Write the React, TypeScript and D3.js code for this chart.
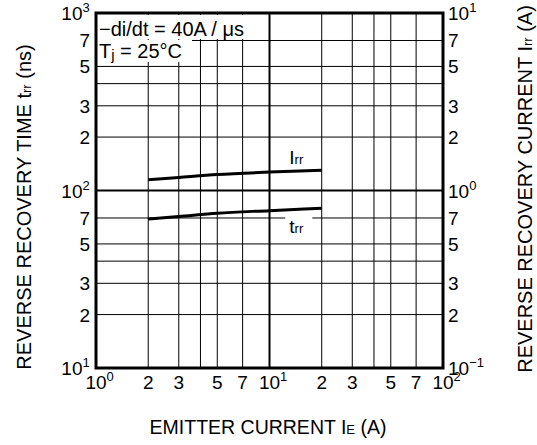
import * as d3 from "d3";

// emitter current IE (A)
const currentA = [2, 3, 5, 10, 20];
// reverse recovery current Irr (A), right axis
const irrA = [1.15, 1.185, 1.23, 1.27, 1.3];
// reverse recovery time trr (ns), left axis
const trrNs = [69, 71.3, 74.5, 77, 79.5];

const gridMult = [2, 3, 4, 5, 7];
const labelMult = [2, 3, 5, 7];
const xDecades = [0, 1, 2];
const leftDecades = [1, 2, 3];
const rightDecades = [-1, 0, 1];

const W = 537;
const H = 445;
const M = { left: 96, right: 443, top: 13, bottom: 368 };
const FONT = "'Liberation Sans', Arial, sans-serif";

function Pow({ x, y, base, exp, anchor }: { x: number; y: number; base: string; exp: string; anchor: "start" | "mid" | "end" }) {
  // "10" with a superscript; anchor refers to the "10" part
  const fs = 19;
  const w = 1.112 * fs;
  const x0 = anchor === "start" ? x : anchor === "mid" ? x - w / 2 : x - w - exp.length * 7.5;
  return (
    <text x={x0} y={y} fontSize={fs} fontFamily={FONT} fill="#000">
      {base}
      <tspan fontSize={13} dy={-8}>{exp}</tspan>
    </text>
  );
}

export default function App() {
  const x = d3.scaleLog().domain([1, 100]).range([M.left, M.right]);
  const yL = d3.scaleLog().domain([10, 1000]).range([M.bottom, M.top]);
  const yR = d3.scaleLog().domain([0.1, 10]).range([M.bottom, M.top]);

  const vLines: number[] = [];
  const hLines: number[] = [];
  xDecades.slice(0, -1).forEach((d) => gridMult.forEach((m) => vLines.push(m * 10 ** d)));
  leftDecades.slice(0, -1).forEach((d) => gridMult.forEach((m) => hLines.push(m * 10 ** d)));

  const irrLine = d3
    .line<number>()
    .x((_, i) => x(currentA[i]))
    .y((v) => yR(v))
    .curve(d3.curveMonotoneX);
  const trrLine = d3
    .line<number>()
    .x((_, i) => x(currentA[i]))
    .y((v) => yL(v))
    .curve(d3.curveMonotoneX);

  const fs = 19;

  return (
    <svg width={W} height={H} style={{ position: "absolute", left: 0, top: 0, background: "#fff" }} fontFamily={FONT}>
      <rect width={W} height={H} fill="#fff" />

      {/* minor grid */}
      {vLines.map((v) => (
        <line key={"v" + v} x1={x(v)} x2={x(v)} y1={M.top} y2={M.bottom} stroke="#000" strokeWidth={1} />
      ))}
      {hLines.map((v) => (
        <line key={"h" + v} x1={M.left} x2={M.right} y1={yL(v)} y2={yL(v)} stroke="#000" strokeWidth={1} />
      ))}
      {/* decade lines */}
      <line x1={x(10)} x2={x(10)} y1={M.top} y2={M.bottom} stroke="#000" strokeWidth={2} />
      <line x1={M.left} x2={M.right} y1={yL(100)} y2={yL(100)} stroke="#000" strokeWidth={2} />

      {/* condition box */}
      <rect x={M.left + 1} y={M.top + 2} width={156} height={24} fill="#fff" />
      <rect x={M.left + 1} y={M.top + 27} width={95} height={22} fill="#fff" />
      <text x={M.left + 3} y={36} fontSize={20} fill="#000">−di/dt = 40A / μs</text>
      <text x={M.left + 3} y={58} fontSize={20} fill="#000">
        T<tspan fontSize={15} dy={2}>j</tspan>
        <tspan dy={-2}> = 25°C</tspan>
      </text>

      {/* curves */}
      <path d={irrLine(irrA) ?? ""} fill="none" stroke="#000" strokeWidth={3} />
      <path d={trrLine(trrNs) ?? ""} fill="none" stroke="#000" strokeWidth={3} />

      <text x={x(13)} y={164} fontSize={fs} fill="#000">
        I<tspan fontSize={13}>rr</tspan>
      </text>
      <rect x={x(13) - 4} y={yL(70) - 3} width={27} height={6} fill="#fff" />
      <text x={x(13)} y={233} fontSize={fs} fill="#000">
        t<tspan fontSize={13}>rr</tspan>
      </text>

      {/* frame */}
      <rect x={M.left} y={M.top} width={M.right - M.left} height={M.bottom - M.top} fill="none" stroke="#000" strokeWidth={3} />

      {/* left ticks */}
      {leftDecades.map((d) => (
        <Pow key={"ld" + d} x={90} y={yL(10 ** d) + 7} base="10" exp={String(d)} anchor="end" />
      ))}
      {leftDecades.slice(0, -1).flatMap((d) =>
        labelMult.map((m) => (
          <text key={"lm" + d + m} x={90} y={yL(m * 10 ** d) + 7} fontSize={fs} textAnchor="end" fill="#000">
            {m}
          </text>
        ))
      )}

      {/* right ticks */}
      {rightDecades.map((d) => (
        <Pow key={"rd" + d} x={448} y={yR(10 ** d) + 7} base="10" exp={d < 0 ? "−" + Math.abs(d) : String(d)} anchor="start" />
      ))}
      {rightDecades.slice(0, -1).flatMap((d) =>
        labelMult.map((m) => (
          <text key={"rm" + d + m} x={448} y={yR(m * 10 ** d) + 7} fontSize={fs} fill="#000">
            {m}
          </text>
        ))
      )}

      {/* bottom ticks */}
      {xDecades.map((d) => (
        <Pow key={"xd" + d} x={x(10 ** d)} y={389} base="10" exp={String(d)} anchor="mid" />
      ))}
      {xDecades.slice(0, -1).flatMap((d) =>
        labelMult.map((m) => (
          <text key={"xm" + d + m} x={x(m * 10 ** d)} y={389} fontSize={fs} textAnchor="middle" fill="#000">
            {m}
          </text>
        ))
      )}

      {/* axis titles */}
      <text x={268} y={434} fontSize={19.5} textAnchor="middle" fill="#000">
        EMITTER CURRENT I<tspan fontSize={13}>E</tspan> (A)
      </text>
      <text transform="translate(31,207) rotate(-90)" fontSize={20} textAnchor="middle" fill="#000">
        REVERSE RECOVERY TIME t<tspan fontSize={13}>rr</tspan> (ns)
      </text>
      <text transform="translate(532,189) rotate(-90)" fontSize={20} textAnchor="middle" fill="#000">
        REVERSE RECOVERY CURRENT I<tspan fontSize={13}>rr</tspan> (A)
      </text>
    </svg>
  );
}
